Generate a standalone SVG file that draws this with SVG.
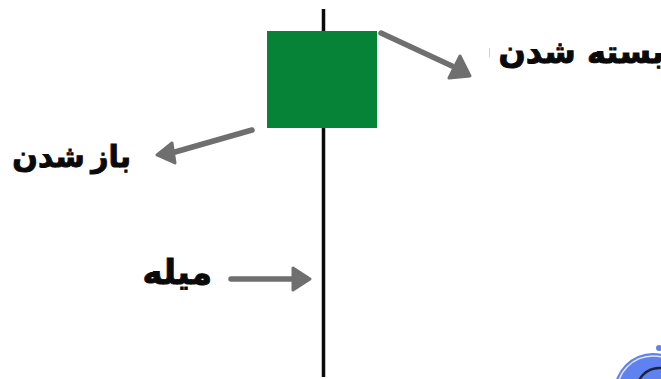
<svg xmlns="http://www.w3.org/2000/svg" width="661" height="379" viewBox="0 0 661 379">
<style>
.lbl{font-family:"DejaVu Sans",sans-serif;font-weight:700;fill:#0a0a0a;direction:rtl;stroke:#0a0a0a;stroke-width:1px}
.arr{fill:none;stroke:#6f6f6f;stroke-width:5.500px;stroke-linecap:round}
.head{fill:#6f6f6f;stroke:#6f6f6f;stroke-width:3px;stroke-linejoin:round}
</style>
<rect width="661" height="379" fill="#fff"/>
<g id="wick"><line x1="323.500" y1="9" x2="323.500" y2="377" stroke="#0a0a0a" stroke-width="3.500"/></g>
<g id="candle-body"><rect x="267" y="31" width="110" height="97" fill="#068337"/></g>
<g id="connectors">
<path class="arr" d="M381 33L452 66"/><path class="head" d="M460 56L470 76L449 78Z"/>
<path class="arr" d="M252 130L175 152"/><path class="head" d="M172 143L157 155L175 163Z"/>
<path class="arr" d="M231 279L292 279"/><path class="head" d="M293 268L310 279L293 290Z"/>
</g>
<g id="label-close"><text class="lbl" x="664" y="63" font-size="32" text-anchor="start">بسته شدن</text><line x1="489.500" y1="48" x2="489.500" y2="57" stroke="#cfcfcf" stroke-width="1"/></g>
<g id="label-open"><text class="lbl" x="131" y="167" font-size="30" word-spacing="-4" text-anchor="start">باز شدن</text></g>
<g id="label-wick"><text class="lbl" x="212" y="284" font-size="34" text-anchor="start">میله</text></g>
<g id="logo-fragment">
<circle cx="653" cy="392" r="39" fill="#5f82f0"/>
<circle cx="653" cy="392" r="36" fill="none" stroke="#dfe6fb" stroke-width="1.500"/>
<circle cx="659" cy="390" r="22" fill="none" stroke="#1a2340" stroke-width="2.500"/>
<circle cx="659" cy="348" r="3" fill="#5f82f0"/>
</g>
</svg>
